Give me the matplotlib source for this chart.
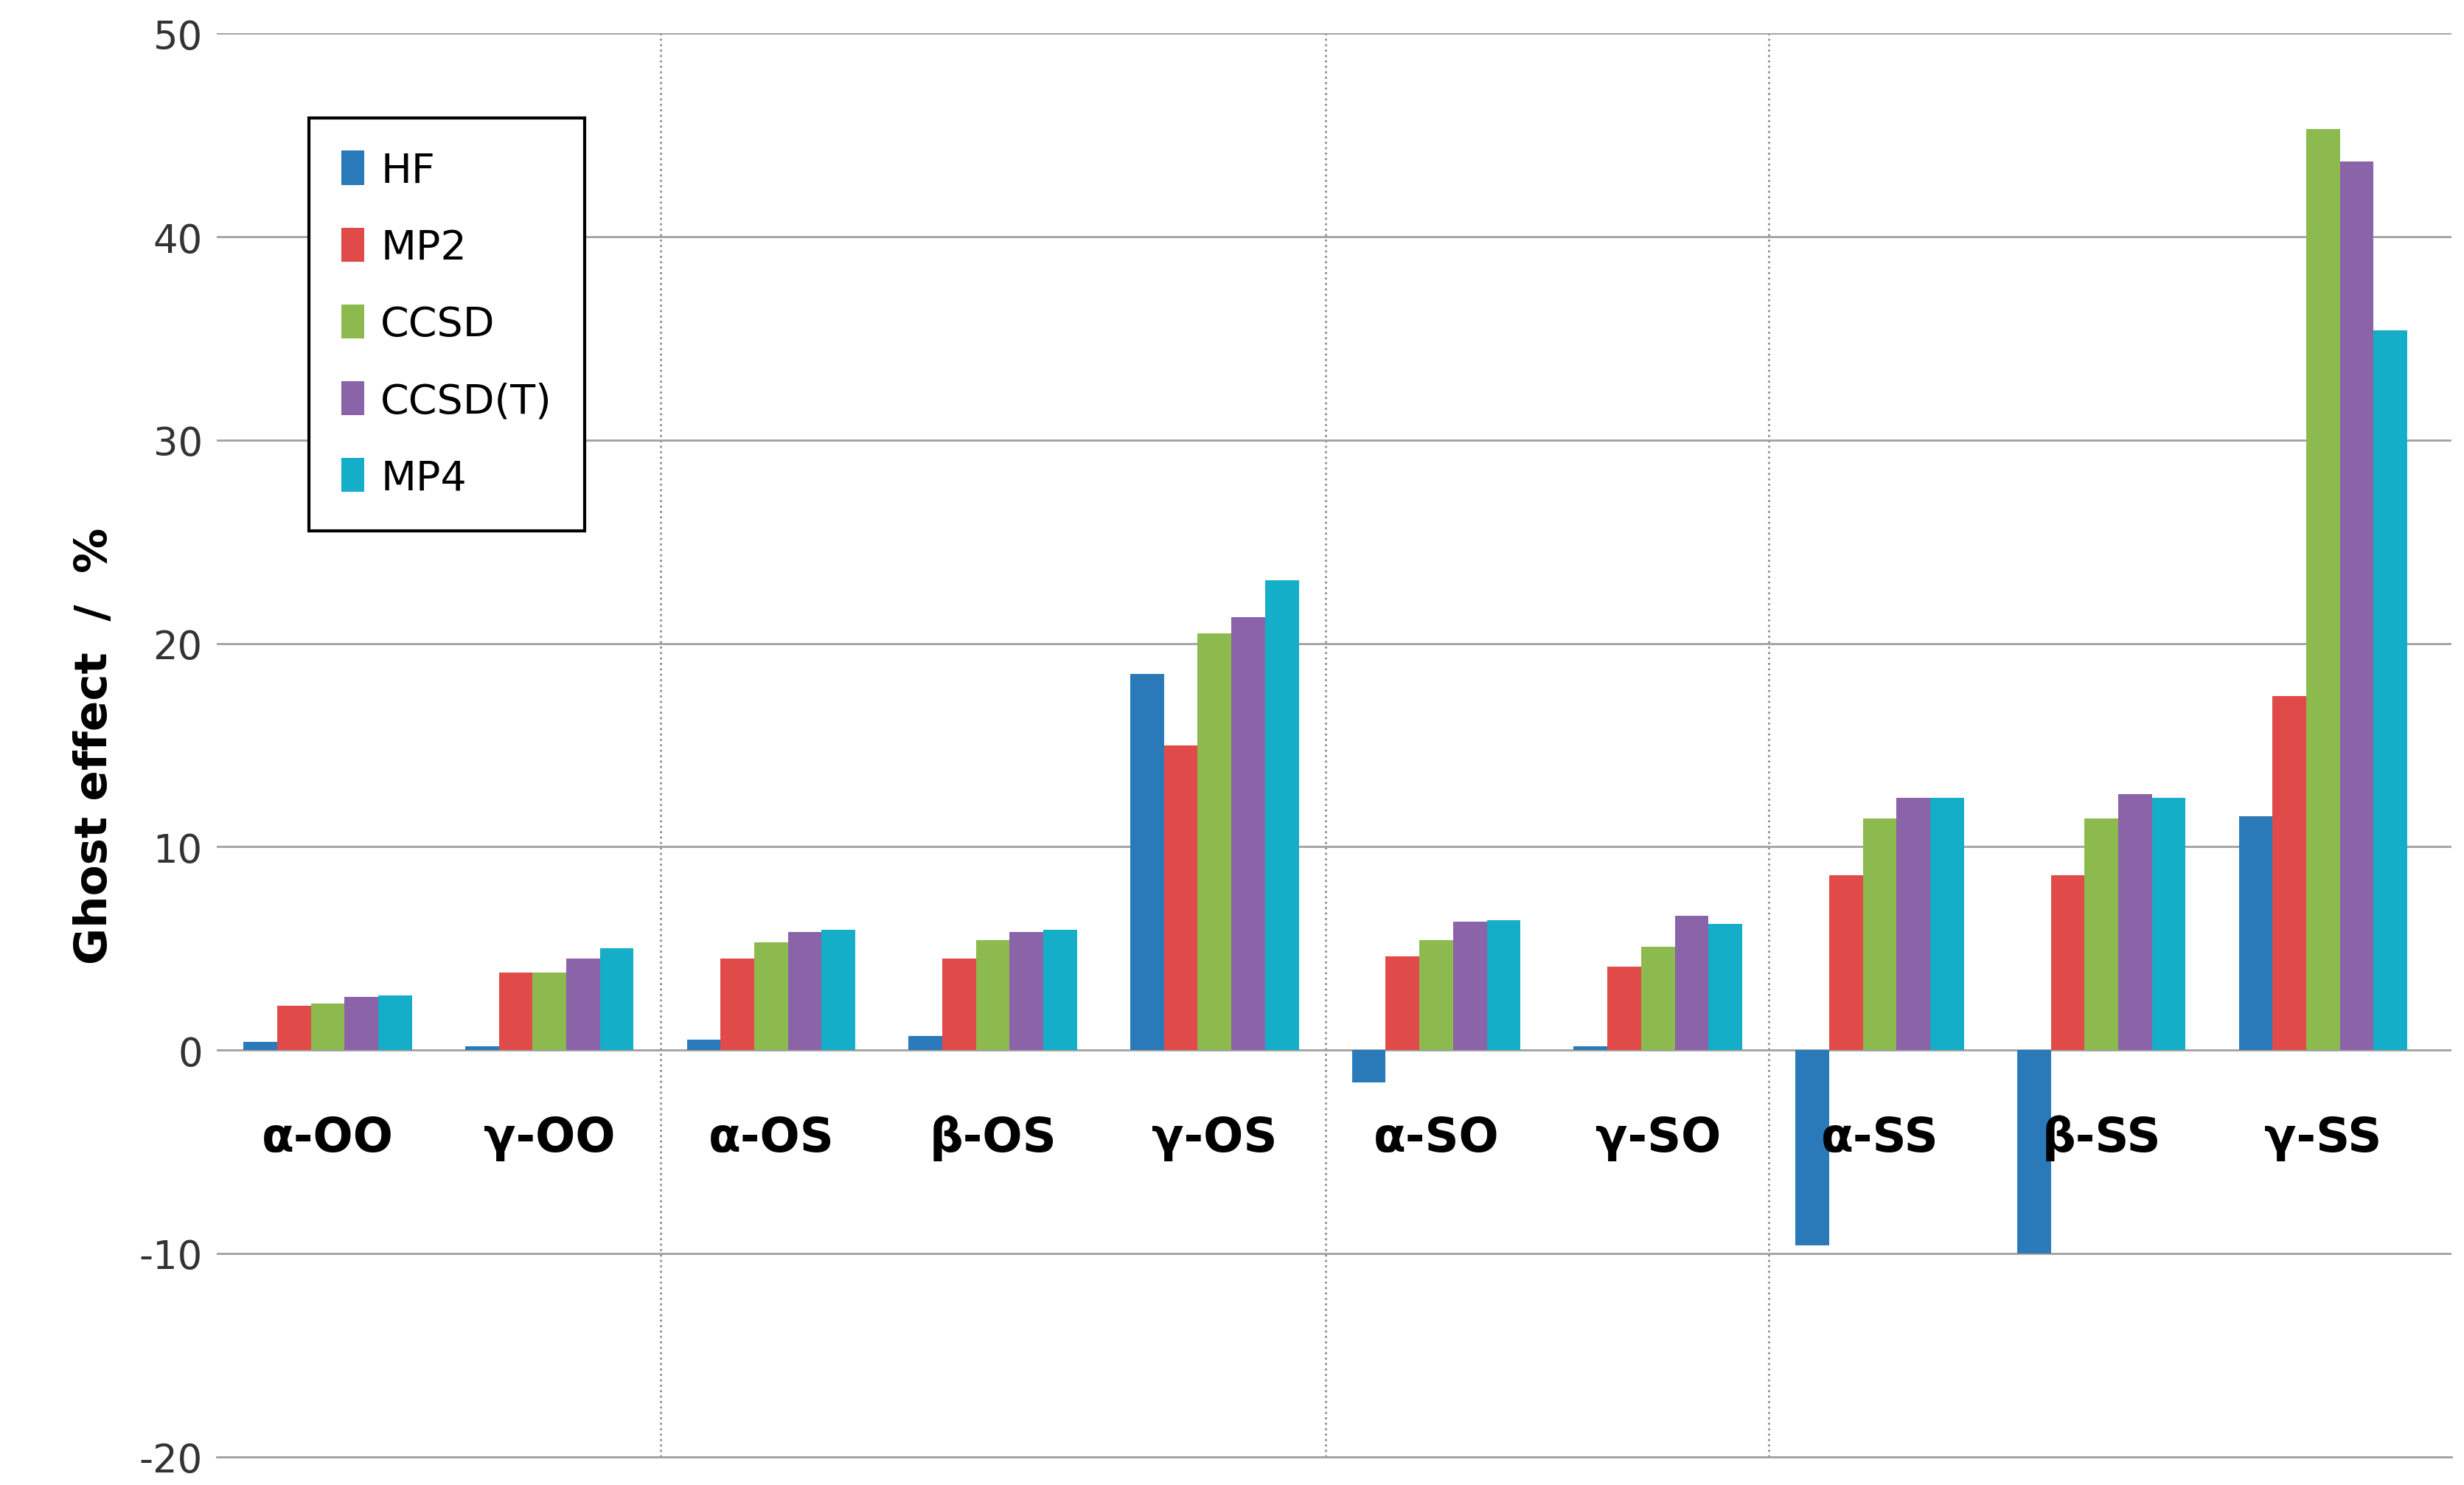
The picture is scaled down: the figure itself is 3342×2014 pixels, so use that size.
import matplotlib
matplotlib.use("Agg")
import matplotlib.pyplot as plt
import numpy as np

plt.rcParams['axes.unicode_minus'] = False

categories = ["α-OO","γ-OO","α-OS","β-OS","γ-OS","α-SO","γ-SO","α-SS","β-SS","γ-SS"]
series_names = ["HF","MP2","CCSD","CCSD(T)","MP4"]
HF     = [0.4, 0.2, 0.5, 0.7, 18.5, -1.6, 0.2, -9.6, -10.0, 11.5]
MP2    = [2.2, 3.8, 4.5, 4.5, 15.0, 4.6, 4.1, 8.6, 8.6, 17.4]
CCSD   = [2.3, 3.8, 5.3, 5.4, 20.5, 5.4, 5.1, 11.4, 11.4, 45.3]
CCSDT  = [2.6, 4.5, 5.8, 5.8, 21.3, 6.3, 6.6, 12.4, 12.6, 43.7]
MP4    = [2.7, 5.0, 5.9, 5.9, 23.1, 6.4, 6.2, 12.4, 12.4, 35.4]
colors = ["#2a7ab9", "#e04b4a", "#8cba4e", "#8b63a8", "#15aec9"]
separators = [2, 5, 7]

fig = plt.figure(figsize=(33.42, 20.15), dpi=100)
ax = fig.add_axes([0.088, 0.019, 0.907, 0.958])
x = np.arange(len(categories))
w = 0.152
for i, (vals, name) in enumerate(zip([HF, MP2, CCSD, CCSDT, MP4], series_names)):
    ax.bar(x + (i - 2) * w, vals, w, color=colors[i], label=name, zorder=3)

ax.set_xlim(-0.5, len(categories) - 0.42)
ax.set_ylim(-20, 50)
ax.set_yticks(range(-20, 51, 10))
ax.yaxis.grid(True, color="#a0a0a0", linewidth=2, zorder=0)
for s in separators:
    ax.axvline(s - 0.5, color="#909090", linestyle=":", linewidth=2, zorder=1)
for sp in ["top", "right", "left"]:
    ax.spines[sp].set_visible(False)
ax.spines["bottom"].set_color("#a0a0a0")
ax.spines["bottom"].set_linewidth(2)
ax.spines["bottom"].set_position(("data", -20))
ax.set_xticks([])
ax.tick_params(axis="y", labelsize=38, length=0, pad=14, colors="#333333")
for i, c in enumerate(categories):
    ax.text(i, -4.3, c, ha="center", va="center", fontsize=46, fontweight="bold", zorder=4)
ax.set_ylabel("Ghost effect  /  %", fontsize=44, fontweight="bold", labelpad=22)
leg = ax.legend(loc="upper left", bbox_to_anchor=(0.032, 0.955), fontsize=40,
                frameon=True, fancybox=False, edgecolor="black",
                handlelength=0.55, handleheight=0.9, handletextpad=0.4,
                labelspacing=0.9, borderpad=0.8)
leg.get_frame().set_linewidth(3)
leg.get_frame().set_alpha(1)
fig.savefig("out.png", dpi=100)
